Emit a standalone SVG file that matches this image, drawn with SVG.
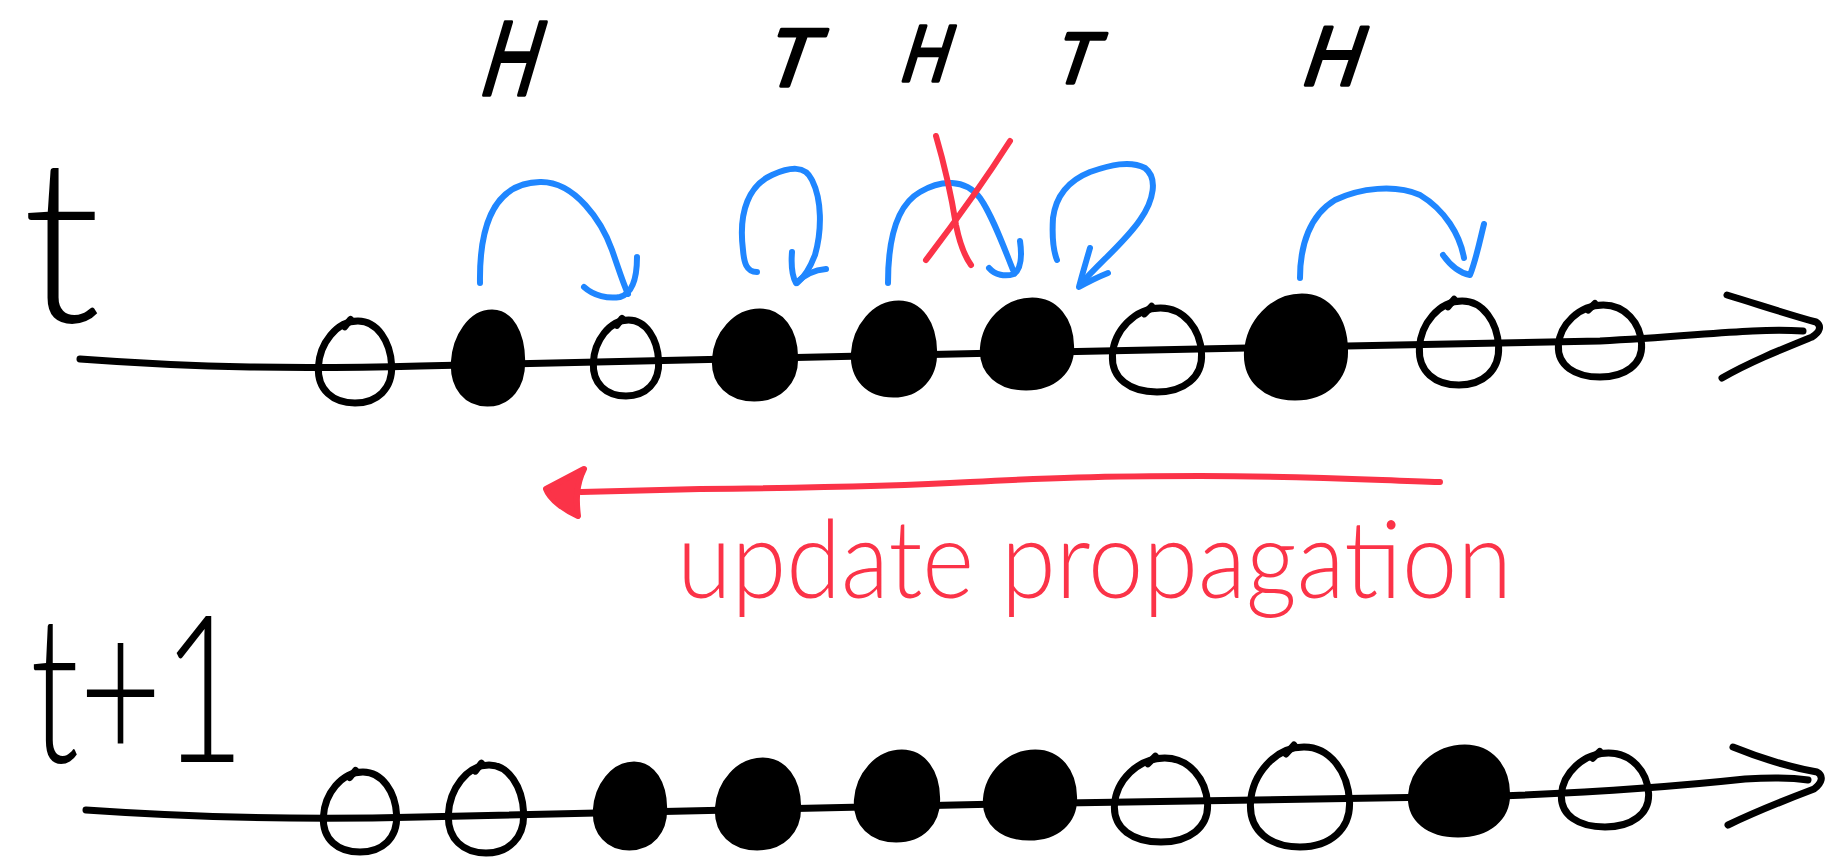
<svg xmlns="http://www.w3.org/2000/svg" xmlns:xlink="http://www.w3.org/1999/xlink" width="1845" height="864" viewBox="0 0 1845 864">
  <style>
    .ink { fill: none; stroke: #000; stroke-width: 7; stroke-linecap: round; stroke-linejoin: round; }
    .hop { fill: none; stroke: #1f86ff; stroke-width: 6; stroke-linecap: round; stroke-linejoin: round; }
    .mark { fill: none; stroke: #fb3348; stroke-width: 6; stroke-linecap: round; stroke-linejoin: round; }
    .head { fill: #fb3348; stroke: #fb3348; stroke-width: 6; stroke-linejoin: round; }
    .coin { font-family: "Liberation Sans", Arial, sans-serif; font-style: italic; font-weight: normal; fill: #000; stroke: #000; stroke-width: 3.5; stroke-linejoin: round; text-anchor: middle; }
    .time { font-family: Lato, "Liberation Sans", sans-serif; font-weight: 300; fill: #000; }
    .note { font-family: Lato, "Liberation Sans", sans-serif; font-weight: 300; fill: #fb3348; }
  </style>
  <defs>
    <!-- unit oval bead; placed with translate + scale, stroke kept in screen pixels -->
    <g id="open">
      <path d="M0.08,-1 C0.6,-1 0.96,-0.5 0.99,0.08 C1.02,0.65 0.6,1 0,1 C-0.6,1 -1.02,0.68 -0.99,0.12 C-0.96,-0.45 -0.5,-1 0.08,-1 Z" fill="none" stroke="#000" stroke-width="7" stroke-linejoin="round" vector-effect="non-scaling-stroke"/>
      <path d="M-0.28,-0.86 L-0.12,-1.04" fill="none" stroke="#000" stroke-width="7" stroke-linecap="round" vector-effect="non-scaling-stroke"/>
    </g>
    <g id="filled">
      <path d="M0.12,-1 C0.65,-1 0.98,-0.55 0.99,0.05 C1.01,0.62 0.6,1 -0.02,1 C-0.62,1 -1.02,0.65 -0.99,0.1 C-0.95,-0.48 -0.48,-1 0.12,-1 Z" fill="#000" stroke="#000" stroke-width="7" stroke-linejoin="round" vector-effect="non-scaling-stroke"/>
    </g>
  </defs>

  <rect width="1845" height="864" fill="#fff"/>

  <!-- time labels -->
  <text id="label-t" class="time" x="22" y="322" font-size="230">t</text>
  <text id="label-t1" class="time" x="30" y="762" font-size="205" textLength="215" lengthAdjust="spacingAndGlyphs">t+1</text>

  <!-- axes and arrows -->
  <g id="connectors">
    <!-- time axis t -->
    <path class="ink" d="M80,359 C200,368 300,369 420,366 C600,362 800,357 1000,353 C1250,349 1450,345 1600,341 C1700,336 1750,328 1803,331"/>
    <path class="ink" d="M1727,295 C1760,305 1790,315 1816,322 C1822,326 1820,332 1812,337 C1780,350 1750,362 1722,378"/>
    <!-- time axis t+1 -->
    <path class="ink" d="M86,810 C200,818 300,820 420,817 C600,812 800,808 1000,804 C1200,800 1400,799 1500,796 C1600,792 1680,786 1745,779 C1775,777 1795,778 1808,780"/>
    <path class="ink" d="M1733,747 C1765,760 1795,768 1817,772 C1824,776 1822,783 1814,789 C1785,800 1755,812 1728,825"/>

    <!-- hops -->
    <path class="hop" d="M480,283 C479,215 500,183 540,182 C575,181 602,222 612,250 C619,270 623,283 628,294"/>
    <path class="hop" d="M584,287 C594,296 608,299 620,297 C634,293 637,275 637,257"/>

    <path class="hop" d="M757,272 C746,272 744,262 743,250 C738,210 750,185 772,175 C790,167 805,165 812,180 C822,200 822,230 815,255 C810,268 805,277 797,283"/>
    <path class="hop" d="M792,252 C791,265 792,276 796,283 C803,276 814,270 826,269"/>

    <path class="hop" d="M888,283 C888,240 897,205 920,192 C940,180 965,178 980,198 C992,215 1003,245 1013,270"/>
    <path class="hop" d="M989,268 C995,275 1005,277 1014,274 C1022,268 1022,255 1020,241"/>

    <path class="hop" d="M1057,260 C1053,250 1052,235 1053,218 C1056,195 1070,180 1090,172 C1110,165 1130,160 1145,168 C1158,178 1154,200 1140,220 C1125,242 1100,262 1080,285"/>
    <path class="hop" d="M1090,248 C1086,262 1082,275 1079,287 C1088,282 1098,277 1108,273"/>

    <path class="hop" d="M1300,278 C1300,245 1310,215 1335,200 C1360,188 1395,184 1420,195 C1445,210 1460,235 1464,258"/>
    <path class="hop" d="M1443,255 C1450,265 1460,273 1470,275 C1476,260 1480,240 1484,224"/>

    <!-- update propagation arrow -->
    <path class="mark" d="M1440,482 C1350,479 1300,476 1200,476 C1100,476 1050,478 970,482 C880,487 800,488 700,489 C650,490 610,491 581,492"/>
    <path class="head" d="M584,469 L546,489 C550,500 565,510 578,516 C576,500 576,485 584,469 Z"/>
  </g>

  <!-- blocked hop -->
  <g id="cross">
    <path class="mark" d="M936,136 C946,170 952,200 956,225 C960,245 966,258 971,265"/>
    <path class="mark" d="M1010,141 C985,180 955,222 926,260"/>
  </g>

  <text id="caption" class="note" x="677" y="598" font-size="109" textLength="835" lengthAdjust="spacingAndGlyphs">update propagation</text>

  <!-- beads at t -->
  <g id="t-1"><use xlink:href="#open" transform="translate(355,362) scale(37,41)"/></g>
  <g id="t-2"><use xlink:href="#filled" transform="translate(488,358) scale(34,45)"/><g transform="translate(508,95) skewX(-9)"><text class="coin" font-size="106" textLength="54" lengthAdjust="spacingAndGlyphs">H</text></g></g>
  <g id="t-3"><use xlink:href="#open" transform="translate(626,358) scale(33,38)"/></g>
  <g id="t-4"><use xlink:href="#filled" transform="translate(755,355) scale(40,43)"/><g transform="translate(789,86) skewX(-9)"><text class="coin" font-size="82" textLength="50" lengthAdjust="spacingAndGlyphs">T</text></g></g>
  <g id="t-5"><use xlink:href="#filled" transform="translate(894,349) scale(40,45)"/><g transform="translate(924,81) skewX(-9)"><text class="coin" font-size="80" textLength="46" lengthAdjust="spacingAndGlyphs">H</text></g></g>
  <g id="t-6"><use xlink:href="#filled" transform="translate(1027,344) scale(44,43)"/><g transform="translate(1074,83) skewX(-9)"><text class="coin" font-size="72" textLength="42" lengthAdjust="spacingAndGlyphs">T</text></g></g>
  <g id="t-7"><use xlink:href="#open" transform="translate(1157,350) scale(45,42)"/></g>
  <g id="t-8"><use xlink:href="#filled" transform="translate(1296,347) scale(49,50)"/><g transform="translate(1331,85) skewX(-9)"><text class="coin" font-size="84" textLength="56" lengthAdjust="spacingAndGlyphs">H</text></g></g>
  <g id="t-9"><use xlink:href="#open" transform="translate(1459,343) scale(40,42)"/></g>
  <g id="t-10"><use xlink:href="#open" transform="translate(1600,341) scale(42,36)"/></g>

  <!-- beads at t+1 -->
  <g id="t1-1"><use xlink:href="#open" transform="translate(360,812) scale(37,40)"/></g>
  <g id="t1-2"><use xlink:href="#open" transform="translate(486,809) scale(38,44)"/></g>
  <g id="t1-3"><use xlink:href="#filled" transform="translate(630,806) scale(34,41)"/></g>
  <g id="t1-4"><use xlink:href="#filled" transform="translate(758,804) scale(40,43)"/></g>
  <g id="t1-5"><use xlink:href="#filled" transform="translate(897,796) scale(40,43)"/></g>
  <g id="t1-6"><use xlink:href="#filled" transform="translate(1030,795) scale(44,42)"/></g>
  <g id="t1-7"><use xlink:href="#open" transform="translate(1161,800) scale(47,42)"/></g>
  <g id="t1-8"><use xlink:href="#open" transform="translate(1300,797) scale(50,50)"/></g>
  <g id="t1-9"><use xlink:href="#filled" transform="translate(1459,791) scale(48,43)"/></g>
  <g id="t1-10"><use xlink:href="#open" transform="translate(1605,790) scale(44,37)"/></g>
</svg>
